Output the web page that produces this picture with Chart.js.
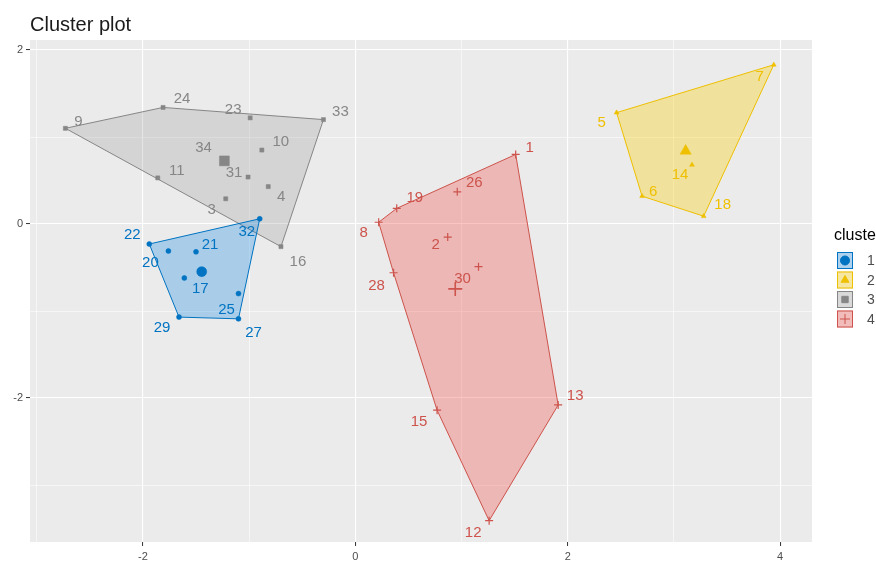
<!DOCTYPE html>
<html><head><meta charset="utf-8">
<script src="https://cdn.jsdelivr.net/npm/chart.js@4"></script>
<style>html,body{margin:0;padding:0;background:#fff;}#wrap{width:876px;height:568px;}</style>
</head><body><div id="wrap"><canvas id="c" width="876" height="568"></canvas></div>
<script>
// ---- data ----
const clusterIds = ["1", "2", "3", "4"];
const c1Names = ["22", "32", "20", "21", "17", "25", "29", "27"];
const c1Dim1  = [-1.94, -0.90, -1.76, -1.50, -1.61, -1.10, -1.66, -1.10];
const c1Dim2  = [-0.23,  0.06, -0.31, -0.32, -0.62, -0.80, -1.07, -1.09];
const c2Names = ["7", "5", "6", "18", "14"];
const c2Dim1  = [3.94, 2.46, 2.70, 3.28, 3.17];
const c2Dim2  = [1.83, 1.28, 0.32, 0.09, 0.68];
const c3Names = ["9", "24", "23", "33", "10", "34", "31", "4", "11", "3", "16"];
const c3Dim1  = [-2.73, -1.81, -0.99, -0.30, -0.88, -1.24, -1.01, -0.82, -1.86, -1.22, -0.70];
const c3Dim2  = [ 1.10,  1.34,  1.22,  1.20,  0.85,  0.74,  0.54,  0.43,  0.53,  0.29, -0.26];
const c4Names = ["1", "26", "19", "8", "2", "30", "28", "15", "13", "12"];
const c4Dim1  = [1.51, 0.96, 0.39, 0.22, 0.87, 1.16, 0.36, 0.77, 1.91, 1.26];
const c4Dim2  = [0.80, 0.37, 0.18, 0.02, -0.15, -0.49, -0.56, -2.14, -2.08, -3.41];
const xTickValues = [-2, 0, 2, 4];
const yTickValues = [-2, 0, 2];

// ---- styles ----
const colors = ["#0073C2", "#EFC000", "#868686", "#CD534C"];
const fills  = ["rgba(0,130,225,0.28)", "rgba(252,205,0,0.33)", "rgba(120,120,120,0.2)", "rgba(240,80,72,0.33)"];
const shapes = ["circle", "triangle", "rect", "cross"];
const smallR = [2.5, 2.8, 2.9, 4];
const bigR   = [5, 6.5, 7, 7];
const FONT = '"Liberation Sans", Arial, Helvetica, sans-serif';
const labelNudge = {
  "9":[13,-6],"24":[19,-9],"23":[-17,-8],"33":[17,-8],"10":[19,-8],"34":[-20,-12],"31":[-14,-4],
  "4":[13,10],"11":[19,-7],"3":[-14,11],"16":[17,15],
  "22":[-17,-9],"32":[-13,13],"20":[-18,12],"21":[14,-7],"17":[16,11],"25":[-12,16],"29":[-17,11],"27":[15,14],
  "1":[14,-7],"26":[17,-9],"19":[18,-10],"8":[-15,11],"2":[-12,8],"30":[-16,12],"28":[-17,13],"15":[-18,12],
  "13":[17,-9],"12":[-16,12],
  "7":[-14,12],"5":[-15,10],"6":[11,-4],"18":[19,-11],"14":[-12,10]
};

const groups = [
  {names: c1Names, x: c1Dim1, y: c1Dim2},
  {names: c2Names, x: c2Dim1, y: c2Dim2},
  {names: c3Names, x: c3Dim1, y: c3Dim2},
  {names: c4Names, x: c4Dim1, y: c4Dim2}
];

function hull(pts) {
  const p = pts.slice().sort((a, b) => a.x - b.x || a.y - b.y);
  const cross = (o, a, b) => (a.x - o.x) * (b.y - o.y) - (a.y - o.y) * (b.x - o.x);
  const lower = [], upper = [];
  for (const q of p) { while (lower.length >= 2 && cross(lower[lower.length-2], lower[lower.length-1], q) <= 0) lower.pop(); lower.push(q); }
  for (let i = p.length - 1; i >= 0; i--) { const q = p[i]; while (upper.length >= 2 && cross(upper[upper.length-2], upper[upper.length-1], q) <= 0) upper.pop(); upper.push(q); }
  upper.pop(); lower.pop();
  const h = lower.concat(upper);
  h.push(h[0]);
  return h;
}

const datasets = [];
groups.forEach((g, k) => {
  const pts = g.names.map((n, i) => ({x: g.x[i], y: g.y[i], name: n}));
  const cx = g.x.reduce((a, b) => a + b, 0) / g.x.length;
  const cy = g.y.reduce((a, b) => a + b, 0) / g.y.length;
  datasets.push({
    label: 'hull' + clusterIds[k], data: hull(pts), showLine: true, fill: 'shape',
    backgroundColor: fills[k], borderColor: colors[k], borderWidth: 1, pointRadius: 0, tension: 0, order: 3
  });
  datasets.push({
    label: 'pts' + clusterIds[k], data: pts, pointStyle: shapes[k], pointRadius: smallR[k],
    backgroundColor: colors[k], borderColor: colors[k], borderWidth: k === 3 ? 1.2 : 0.5, order: 2, isPoints: true, cl: k
  });
  datasets.push({
    label: 'centre' + clusterIds[k], data: [{x: cx, y: cy}], pointStyle: shapes[k], pointRadius: bigR[k],
    backgroundColor: colors[k], borderColor: colors[k], borderWidth: k === 3 ? 1.6 : 0.5, order: 1
  });
});

const even = v => Math.abs(Math.round(v) % 2) === 0;

const panelBg = {
  id: 'panelBg',
  beforeDraw(chart) {
    const {ctx, chartArea: a} = chart;
    ctx.save(); ctx.fillStyle = '#EBEBEB'; ctx.fillRect(a.left, a.top, a.right - a.left, a.bottom - a.top); ctx.restore();
  }
};

const pointLabels = {
  id: 'pointLabels',
  afterDatasetsDraw(chart) {
    const {ctx, scales} = chart;
    ctx.save();
    ctx.font = '15px ' + FONT; ctx.textAlign = 'center'; ctx.textBaseline = 'middle';
    chart.data.datasets.forEach(ds => {
      if (!ds.isPoints) return;
      ctx.fillStyle = colors[ds.cl];
      ds.data.forEach(p => {
        const px = scales.x.getPixelForValue(p.x), py = scales.y.getPixelForValue(p.y);
        const n = labelNudge[p.name] || [0, -10];
        ctx.fillText(p.name, px + n[0], py + n[1]);
      });
    });
    ctx.restore();
  }
};

const deco = {
  id: 'deco',
  afterDraw(chart) {
    const ctx = chart.ctx;
    ctx.save();
    ctx.fillStyle = '#1a1a1a'; ctx.font = '20px ' + FONT; ctx.textAlign = 'left'; ctx.textBaseline = 'alphabetic';
    ctx.fillText('Cluster plot', 30, 31);
    ctx.font = '16px ' + FONT; ctx.textBaseline = 'middle'; ctx.fillStyle = '#000';
    ctx.fillText('cluster', 834, 236);
    clusterIds.forEach((id, k) => {
      const top = 252 + k * 19.5, left = 837, w = 16, h = 17;
      ctx.fillStyle = '#F2F2F2'; ctx.fillRect(left, top, w, h);
      ctx.fillStyle = fills[k]; ctx.fillRect(left, top, w, h);
      ctx.strokeStyle = colors[k]; ctx.lineWidth = 1; ctx.strokeRect(left + 0.5, top + 0.5, w - 1, h - 1);
      const cx = left + w / 2, cy = top + h / 2;
      ctx.fillStyle = colors[k]; ctx.strokeStyle = colors[k];
      Chart.helpers.drawPoint(ctx, {pointStyle: shapes[k], radius: k === 3 ? 5 : 4.5, rotation: 0, borderWidth: 1.2}, cx, cy);
      ctx.fillStyle = '#4d4d4d'; ctx.font = '14px ' + FONT; ctx.textAlign = 'left';
      ctx.fillText(id, 867, cy + 1);
    });
    ctx.restore();
  }
};

new Chart(document.getElementById('c'), {
  type: 'scatter',
  data: {datasets},
  plugins: [panelBg, pointLabels, deco],
  options: {
    responsive: false, animation: false, devicePixelRatio: 1,
    layout: {padding: {top: 40, right: 64, bottom: 0, left: 0}},
    plugins: {legend: {display: false}, tooltip: {enabled: false}, title: {display: false}},
    scales: {
      x: {
        type: 'linear', min: -3.063, max: 4.30,
        ticks: {stepSize: 1, includeBounds: false, autoSkip: false, maxRotation: 0,
          callback: v => xTickValues.includes(v) ? String(v) : '',
          font: {size: 11, family: FONT}, color: '#4d4d4d', padding: 4},
        grid: {color: '#FFFFFF', lineWidth: c => (c.tick && even(c.tick.value)) ? 1.1 : 0.55,
          tickColor: c => (c.tick && even(c.tick.value)) ? '#333' : 'rgba(0,0,0,0)', tickLength: 4, tickWidth: 1},
        border: {display: false},
        afterFit: s => { s.height = 26; }
      },
      y: {
        type: 'linear', min: -3.655, max: 2.115,
        ticks: {stepSize: 1, includeBounds: false, autoSkip: false,
          callback: v => yTickValues.includes(v) ? String(v) : '',
          font: {size: 11, family: FONT}, color: '#4d4d4d', padding: 3},
        grid: {color: '#FFFFFF', lineWidth: c => (c.tick && even(c.tick.value)) ? 1.1 : 0.55,
          tickColor: c => (c.tick && even(c.tick.value)) ? '#333' : 'rgba(0,0,0,0)', tickLength: 4, tickWidth: 1},
        border: {display: false},
        afterFit: s => { s.width = 30; }
      }
    }
  }
});
</script></body></html>
